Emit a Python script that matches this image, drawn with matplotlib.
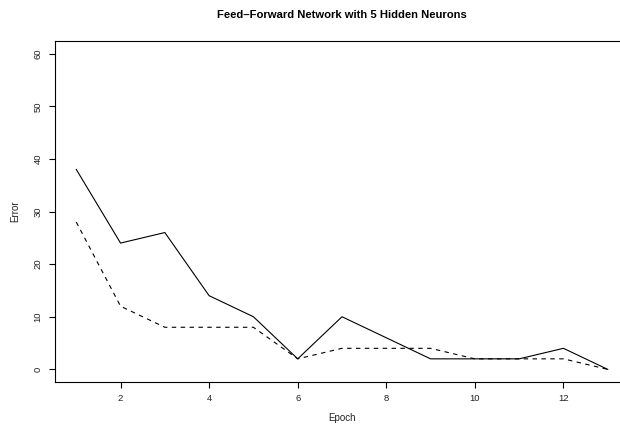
import matplotlib
matplotlib.use("Agg")
import matplotlib.pyplot as plt

epochs = list(range(1, 14))
train_error = [38, 24, 26, 14, 10, 2, 10, 6, 2, 2, 2, 4, 0]
test_error = [28, 12, 8, 8, 8, 2, 4, 4, 4, 2, 2, 2, 0]
x_ticks = [2, 4, 6, 8, 10, 12]
y_ticks = [0, 10, 20, 30, 40, 50, 60]

plt.rcParams['font.family'] = ['Liberation Sans', 'DejaVu Sans']

W, H = 620, 425
fig = plt.figure(figsize=(W / 100, H / 100), dpi=100)
left, right, top, bottom = 55, 629, 41, 382
ax = fig.add_axes([left / W, 1 - bottom / H, (right - left) / W, (bottom - top) / H])

ax.plot(epochs, train_error, color='black', linewidth=0.8)
ax.plot(epochs, test_error, color='black', linewidth=0.8, linestyle=(0, (4, 4)))

ax.set_xlim(0.52, 13.48)
ax.set_ylim(-2.4, 62.4)
ax.set_xticks(x_ticks)
ax.set_yticks(y_ticks)
ax.tick_params(axis='both', direction='out', length=4.3, width=0.8, labelsize=6.8, pad=4.5,
               labelcolor='#222222')
for lab in ax.get_yticklabels():
    lab.set_rotation(90)
    lab.set_va('center')
for s in ax.spines.values():
    s.set_linewidth(0.8)

fig.text(342 / W, 1 - 15 / H, 'Feed\u2013Forward Network with 5 Hidden Neurons',
         ha='center', va='center', fontsize=8.1, fontweight='bold')
fig.text(15 / W, 1 - 211 / H, 'Error', ha='center', va='center', rotation=90,
         fontsize=7, color='#222222')
fig.text(342 / W, 1 - 418 / H, 'Epoch', ha='center', va='center', fontsize=7,
         color='#222222')

fig.savefig('out.png', dpi=100)
